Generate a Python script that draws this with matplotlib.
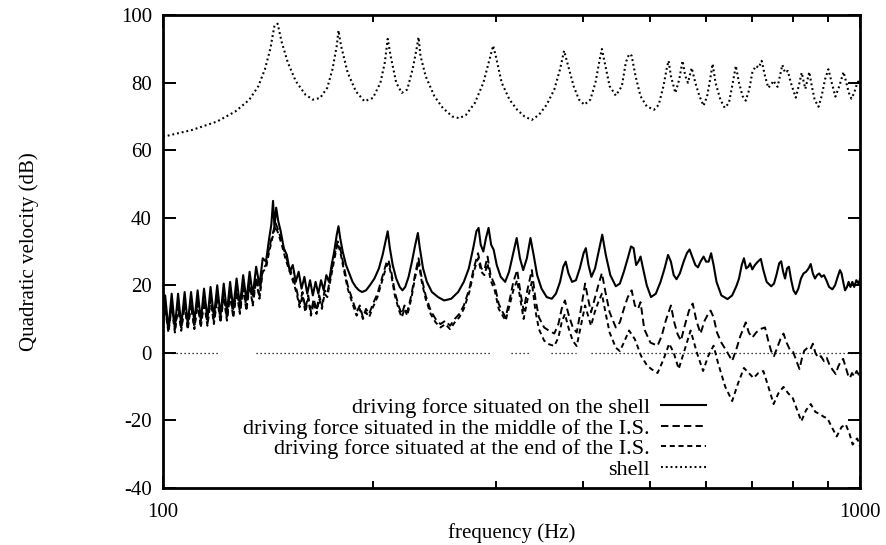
import matplotlib
matplotlib.use("Agg")
import matplotlib.pyplot as plt
from matplotlib.ticker import FixedLocator, NullFormatter, FixedFormatter

plt.rcParams["font.family"] = ["Liberation Serif", "DejaVu Serif"]

# driving force situated on the shell (solid)
on_shell_f = [100.0, 100.7, 101.8, 102.9, 104.0, 105.1, 106.2, 107.4, 108.5, 109.7, 110.9, 112.1,
              113.3, 114.5, 115.8, 117.0, 118.3, 119.6, 120.9, 122.2, 123.5, 124.8, 126.1, 127.5,
              128.9, 130.3, 131.7, 133.1, 134.5, 136.0, 137.5, 139.0, 140.5, 142.0, 143.0, 143.8,
              144.5, 145.3, 146.3, 147.5, 149.0, 150.5, 152.0, 153.5, 155.0, 156.5, 158.0, 159.5,
              161.0, 162.5, 164.0, 165.5, 167.0, 168.5, 170.0, 171.5, 173.0, 174.5, 176.0, 177.5,
              178.5, 179.5, 181.0, 183.0, 185.0, 187.0, 189.0, 191.0, 193.0, 195.5, 198.0, 201.0,
              204.0, 206.5, 208.5, 210.0, 211.5, 213.5, 216.0, 218.5, 220.5, 222.5, 225.0, 227.5,
              230.0, 232.0, 233.5, 236.0, 239.0, 243.0, 248.0, 253.0, 259.0, 265.0, 270.0, 274.5,
              278.5, 281.5, 283.5, 285.5, 288.0, 290.5, 293.0, 295.5, 298.0, 301.0, 305.0, 309.5,
              313.5, 317.5, 321.5, 325.0, 328.5, 332.5, 336.5, 340.0, 344.0, 349.0, 355.0, 361.0,
              366.0, 371.0, 375.0, 378.0, 381.5, 386.0, 391.0, 396.0, 401.0, 404.0, 407.5, 411.5,
              416.5, 421.5, 426.5, 431.5, 438.0, 446.0, 452.0, 458.0, 464.0, 469.0, 473.0, 477.0,
              480.5, 484.0, 488.0, 494.0, 501.0, 509.0, 517.0, 524.0, 530.0, 535.0, 540.0, 545.0,
              551.0, 558.0, 564.0, 569.0, 574.0, 580.0, 585.0, 590.0, 596.0, 601.0, 606.0, 611.0,
              616.0, 622.0, 632.0, 645.0, 655.0, 664.0, 670.0, 676.0, 681.0, 686.0, 691.0, 695.0,
              700.0, 706.0, 713.0, 720.0, 726.0, 734.0, 745.0, 752.0, 758.0, 765.0, 770.0, 775.0,
              780.0, 785.0, 790.0, 796.0, 802.0, 808.0, 815.0, 822.0, 829.0, 836.0, 843.0, 849.0,
              855.0, 861.0, 867.0, 873.0, 880.0, 887.0, 894.0, 902.0, 912.0, 920.0, 928.0, 935.0,
              940.0, 945.0, 951.0, 957.0, 962.0, 968.0, 974.0, 980.0, 987.0, 994.0, 1000.0]
on_shell_db = [12, 17, 7, 17.5, 7.5, 17.5, 8, 18, 8.5, 18, 9, 18.5,
               9.5, 19, 10, 19.5, 10.5, 20, 11, 20.5, 12, 21, 13, 22,
               14, 23, 15.5, 24, 17, 25.5, 20, 28, 27, 34, 38, 45,
               37, 43, 39, 36, 31, 29, 24, 26, 21, 24, 19, 22.5,
               17.5, 21.5, 17, 21, 17.5, 21.5, 18.5, 23, 21, 26, 30, 35,
               37.5, 34, 30, 26, 23.5, 21, 19.5, 18.5, 18, 18.5, 20, 22,
               25, 29, 33, 36, 31, 26, 22, 19.5, 18.5, 19.5, 22.5, 27,
               32, 35.5, 31, 25, 21, 18, 16.5, 15.5, 16, 18, 21, 25,
               31, 36, 37, 32, 30, 34, 37, 32, 30.5, 26, 22.5, 21,
               24, 29, 34, 28, 24.5, 28, 34, 29, 23, 19, 16.5, 16,
               17.5, 21, 25.5, 27, 23.5, 21, 21.5, 25, 29.5, 31, 26, 22.5,
               25, 30, 35, 29, 23, 19.7, 20.5, 24, 28, 31.5, 31, 26,
               27, 28.5, 25, 20, 16.5, 17.5, 21, 25, 29, 27, 23, 21.8,
               23.5, 27, 29.5, 30.6, 28.5, 26, 25.3, 27, 28.5, 27, 27, 29.5,
               26, 21, 17, 15.9, 17, 19.7, 22, 26, 28, 25, 25.5, 26.5,
               24.7, 26, 27, 27.8, 24.5, 21, 19.7, 20.5, 23, 26.5, 27.1, 24,
               22, 25, 25.5, 21.5, 18.5, 17.4, 19, 22, 23.5, 24, 25, 26.3,
               23.5, 22, 23, 23.5, 22.5, 23, 21.5, 19.5, 18.8, 20, 22.5, 24.5,
               23.5, 21, 18.5, 19.5, 21, 19.5, 21, 19.5, 21.5, 20.5, 22]

# driving force situated in the middle of the I.S. (long dash)
middle_f = [100.0, 100.7, 101.8, 102.9, 104.0, 105.1, 106.2, 107.4, 108.5, 109.7, 110.9, 112.1,
            113.3, 114.5, 115.8, 117.0, 118.3, 119.6, 120.9, 122.2, 123.5, 124.8, 126.1, 127.5,
            128.9, 130.3, 131.7, 133.1, 134.5, 136.0, 137.5, 139.0, 140.5, 142.0, 143.5, 145.0,
            146.5, 148.0, 150.0, 152.0, 154.0, 155.5, 157.0, 158.5, 160.0, 161.5, 163.0, 164.5,
            166.0, 167.5, 169.0, 170.5, 172.0, 174.0, 176.0, 178.0, 179.5, 181.5, 184.0, 187.0,
            189.5, 191.5, 193.5, 195.5, 197.5, 200.0, 203.0, 206.0, 209.0, 210.5, 212.5, 215.0,
            218.0, 220.0, 222.0, 224.0, 227.0, 230.0, 232.5, 235.0, 238.0, 242.0, 246.0, 250.0,
            254.0, 258.0, 262.0, 266.0, 270.0, 275.0, 279.0, 283.0, 286.0, 289.0, 292.0, 295.0,
            299.0, 303.0, 307.0, 310.0, 314.0, 318.0, 322.0, 326.0, 329.0, 333.0, 338.0, 342.0,
            346.0, 352.0, 358.0, 364.0, 369.0, 373.0, 377.0, 382.0, 387.0, 392.0, 398.0, 403.0,
            407.0, 411.0, 416.0, 421.0, 426.0, 431.0, 437.0, 446.0, 452.0, 458.0, 464.0, 470.0,
            475.0, 480.0, 484.0, 490.0, 500.0, 512.0, 519.0, 526.0, 535.0, 541.0, 547.0, 553.0,
            560.0, 568.0, 575.0, 582.0, 590.0, 598.0, 605.0, 610.0, 616.0, 623.0, 632.0, 643.0,
            655.0, 664.0, 673.0, 685.0, 692.0, 700.0, 709.0, 718.0, 730.0, 738.0, 745.0, 752.0,
            760.0, 768.0, 776.0, 784.0, 792.0, 800.0, 810.0, 818.0, 825.0, 831.0, 840.0, 848.0,
            855.0, 862.0, 870.0, 878.0, 887.0, 895.0, 903.0, 912.0, 922.0, 930.0, 938.0, 945.0,
            952.0, 960.0, 966.0, 973.0, 980.0, 988.0, 995.0, 1000.0]
middle_db = [9, 14, 6.5, 14.5, 7, 14.5, 7, 15, 7.5, 15, 7.5, 15.5,
             8, 16, 8.5, 16.5, 9, 17, 9.5, 17.5, 10, 18, 11, 19,
             12, 20, 13, 21, 14.5, 22.5, 17, 25, 26, 31, 35, 38.5,
             36, 33, 28.5, 25, 21.5, 18.5, 14.5, 18, 13, 17, 12, 16,
             12.5, 17, 14, 18.5, 17.5, 23, 28.5, 33, 31, 26, 20, 15.5,
             12, 14, 10.5, 13, 11.5, 14.5, 17.5, 22, 26.5, 27.5, 24, 18,
             13.5, 11.5, 14, 12, 17, 23.5, 28, 22, 17, 12.5, 10, 8.5,
             9.5, 8, 10, 11.5, 14, 19, 25, 29.5, 25, 24.5, 28.5, 23,
             20, 14.5, 12, 10.5, 15.5, 21, 24.5, 17, 12.5, 18.5, 24.5, 16,
             10.5, 7.5, 6.5, 5.7, 8.5, 13, 15.5, 11, 7.5, 6, 13.5, 20.5,
             16, 12, 16, 20, 23.6, 18, 12, 7.5, 9, 13, 16.5, 18.5,
             14, 13, 15, 7, 3, 2.1, 5, 9.5, 14, 9, 5.5, 3.6,
             8, 12.5, 14.6, 9.5, 5.7, 9.5, 11.5, 12.5, 10.5, 6, 3, 0.5,
             -2.4, 1, 5, 9, 6, 4.5, 6, 7, 7.5, 3.5, 0.5, -1,
             1.5, 4, 5.7, 3, 1, 0.6, -2.5, -4.8, -1.5, 0.6, 1.5, 1,
             2.7, 0, -1.5, -1, -2.5, -1.5, -3.5, -5, -6.3, -4, -2.5, -1.8,
             -4, -6.5, -7.5, -6, -7, -5.4, -6.5, -6]

# driving force situated at the end of the I.S. (short dash)
end_f = [100.0, 100.7, 101.8, 102.9, 104.0, 105.1, 106.2, 107.4, 108.5, 109.7, 110.9, 112.1,
         113.3, 114.5, 115.8, 117.0, 118.3, 119.6, 120.9, 122.2, 123.5, 124.8, 126.1, 127.5,
         128.9, 130.3, 131.7, 133.1, 134.5, 136.0, 137.5, 139.0, 140.5, 142.0, 143.5, 145.0,
         146.5, 148.0, 150.0, 152.0, 154.0, 155.5, 157.0, 158.5, 160.0, 161.5, 163.0, 164.5,
         166.0, 167.5, 169.0, 170.5, 172.0, 174.0, 176.0, 178.0, 179.5, 181.5, 184.0, 187.0,
         189.5, 191.5, 193.5, 195.5, 197.5, 200.0, 203.0, 206.0, 209.0, 210.5, 212.5, 215.0,
         218.0, 220.0, 222.0, 224.0, 227.0, 230.0, 232.5, 235.0, 238.0, 242.0, 246.0, 250.0,
         254.0, 258.0, 262.0, 266.0, 270.0, 275.0, 279.0, 283.0, 286.0, 289.0, 292.0, 295.0,
         299.0, 303.0, 307.0, 310.0, 314.0, 318.0, 322.0, 326.0, 329.0, 333.0, 338.0, 342.0,
         346.0, 352.0, 358.0, 364.0, 369.0, 373.0, 377.0, 382.0, 387.0, 392.0, 398.0, 403.0,
         407.0, 411.0, 416.0, 421.0, 426.0, 431.0, 437.0, 446.0, 452.0, 458.0, 466.0, 475.0,
         485.0, 495.0, 503.0, 512.0, 522.0, 532.0, 540.0, 549.0, 560.0, 571.0, 583.0, 595.0,
         605.0, 616.0, 625.0, 640.0, 655.0, 668.0, 681.0, 692.0, 703.0, 714.0, 726.0, 738.0,
         751.0, 763.0, 776.0, 788.0, 800.0, 812.0, 823.0, 836.0, 849.0, 862.0, 875.0, 887.0,
         897.0, 910.0, 925.0, 940.0, 953.0, 965.0, 975.0, 983.0, 990.0, 1000.0]
end_db = [8, 13, 6, 13.5, 6, 13.5, 6.5, 14, 7, 14, 7, 14.5,
          7.5, 15, 8, 15.5, 8.5, 16, 9, 16.5, 9.5, 17, 10.5, 18,
          11.5, 19, 12.5, 20, 14, 21.5, 16, 24, 25, 30, 34, 37.5,
          35, 32, 27.5, 24, 20.5, 17.5, 13.5, 17, 12, 16, 11, 15,
          11.5, 16, 13, 17.5, 16.5, 22, 27.5, 32.5, 30, 25, 19, 14.5,
          11, 13, 10, 12, 10.5, 13.5, 16.5, 21, 25.5, 26.5, 23, 17,
          12.5, 10.5, 13, 11, 16, 22.5, 27, 21, 16, 11.5, 9, 7.5,
          8.5, 7, 9, 10.5, 13, 18, 24, 28, 24, 23, 26.5, 21.5,
          18.5, 13, 11, 9.5, 14, 18.5, 21.5, 15, 10, 15.5, 21, 12.5,
          7, 3.6, 2.5, 2, 4.5, 9, 11.5, 7, 3.5, 2, 8.5, 14,
          11, 8, 12, 15, 17.5, 12, 6, 1.5, 0.5, 3, 6.6, 4,
          -1, -3.9, -5, -6, -2, 2.7, 0, -4.8, 1, 6.6, 0, -5.4,
          -1, 2.1, -3, -10, -14.3, -9, -4.5, -6, -7.5, -6, -5.4, -10,
          -15.2, -12, -10.1, -12, -13.4, -17, -20.3, -17, -15.2, -17.5, -18.2, -19,
          -19.4, -22, -24.8, -22, -21.2, -24, -27.2, -26, -25.4, -28]

# shell (dotted)
shell_f = [100, 110, 119.5, 127, 133, 137, 140, 142.5, 144.5, 146, 148, 151, 155, 160, 164, 168,
           172, 175, 177.5, 178.5, 180, 184, 189, 194.5, 200, 205, 208, 210, 212, 216, 220, 224,
           228, 231, 232.5, 234, 238, 245, 252, 260, 266, 272, 280, 288, 294, 297.5, 300, 306,
           314, 322, 330, 338, 346, 355, 364, 371, 376, 380, 388, 395, 402, 410, 417, 423,
           426, 430, 437, 446, 455, 461, 466, 470, 476, 484, 494, 506, 514, 522, 528, 531,
           535, 543, 550, 556, 561, 566, 573, 580, 588, 596, 603, 609, 614, 620, 630, 639,
           648, 655, 663, 670, 678, 685, 693, 700, 708, 715, 722, 730, 738, 745, 751, 756,
           761, 767, 773, 780, 787, 795, 808, 816, 824, 830, 834, 840, 845, 852, 860, 871,
           880, 890, 900, 910, 921, 933, 946, 955, 963, 971, 980, 990, 1000]
shell_db = [64, 66, 68.5, 71.5, 75, 79, 84, 90, 97, 97.5, 92, 86, 80.5, 76.5, 75, 75.5,
            78.5, 84, 91, 95.5, 91, 83, 77.5, 74.5, 75.5, 80, 86, 93, 88, 80, 77, 78,
            84, 90, 93.5, 88, 82, 76, 72.5, 70, 69.5, 70.5, 74, 80, 87, 91, 88, 80,
            75, 72, 70, 69, 70.5, 73.5, 78, 84, 89.5, 86, 79, 75, 73.5, 75, 80, 87,
            90, 86, 79, 76.2, 79, 86, 88.5, 88, 82, 76, 73, 72, 73.5, 79, 84.5, 86.5,
            82, 77, 81, 86.5, 82, 80, 84.4, 80, 76, 73.2, 76, 81, 85.6, 80, 75, 72.6,
            74, 79, 85, 80, 76, 74.7, 78, 83, 85, 84.5, 86.5, 82, 78.5, 79.5, 80.6, 79.5,
            78.8, 82, 85.3, 83, 83.5, 80, 75.6, 79, 83, 80, 78.2, 81, 83.2, 79, 75, 72.9,
            76, 81, 84, 80, 75.9, 79, 83.2, 80, 77, 75.3, 77, 80, 81]

# pieces of the dotted zero axis that are visible (Hz)
zero_segments = [(103, 120), (136, 294), (316, 337), (360, 391), (411, 987)]

x_minor = [200, 300, 400, 500, 600, 700, 800, 900]
y_ticks = [-40, -20, 0, 20, 40, 60, 80, 100]

fig = plt.figure(figsize=(8.86, 5.45), dpi=100)
ax = fig.add_axes([0.184, 0.105, 0.787, 0.867])

ax.plot(on_shell_f, on_shell_db, color="black", lw=1.5, ls="-",
        label="driving force situated on the shell")
ax.plot(middle_f, middle_db, color="black", lw=1.4, dashes=(3.8, 2.1),
        label="driving force situated in the middle of the I.S.")
ax.plot(end_f, end_db, color="black", lw=1.4, dashes=(2.6, 1.9),
        label="driving force situated at the end of the I.S.")
ax.plot(shell_f, shell_db, color="black", lw=1.5, dashes=(0.9, 1.4),
        label="shell")
for f0, f1 in zero_segments:
    ax.plot([f0, f1], [0, 0], color="black", lw=0.9, dashes=(1.0, 2.2))

ax.set_xscale("log")
ax.set_xlim(100, 1000)
ax.set_ylim(-40, 100)
ax.xaxis.set_major_locator(FixedLocator([100, 1000]))
ax.xaxis.set_major_formatter(FixedFormatter(["100", "1000"]))
ax.xaxis.set_minor_locator(FixedLocator(x_minor))
ax.xaxis.set_minor_formatter(NullFormatter())
ax.set_yticks(y_ticks)
ax.set_yticklabels([str(v) for v in y_ticks])

ax.tick_params(which="both", direction="in", top=True, right=True, width=1.4, labelsize=15)
ax.tick_params(axis="x", which="major", length=9, pad=11)
ax.tick_params(axis="x", which="minor", length=5)
ax.tick_params(axis="y", which="major", length=9, pad=8)
for sp in ax.spines.values():
    sp.set_linewidth(2)

ax.set_xlabel("frequency (Hz)", fontsize=15)
ax.xaxis.set_label_coords(0.5, -0.075)
ax.set_ylabel("Quadratic velocity (dB)", fontsize=15)
ax.yaxis.set_label_coords(-0.178, 0.5)

ax.legend(loc="lower right", bbox_to_anchor=(0.778, 0.017), frameon=False,
          markerfirst=False, fontsize=16, handlelength=2.0, handletextpad=0.5,
          labelspacing=0.0, borderpad=0, borderaxespad=0)

fig.savefig("out.png", dpi=100)
